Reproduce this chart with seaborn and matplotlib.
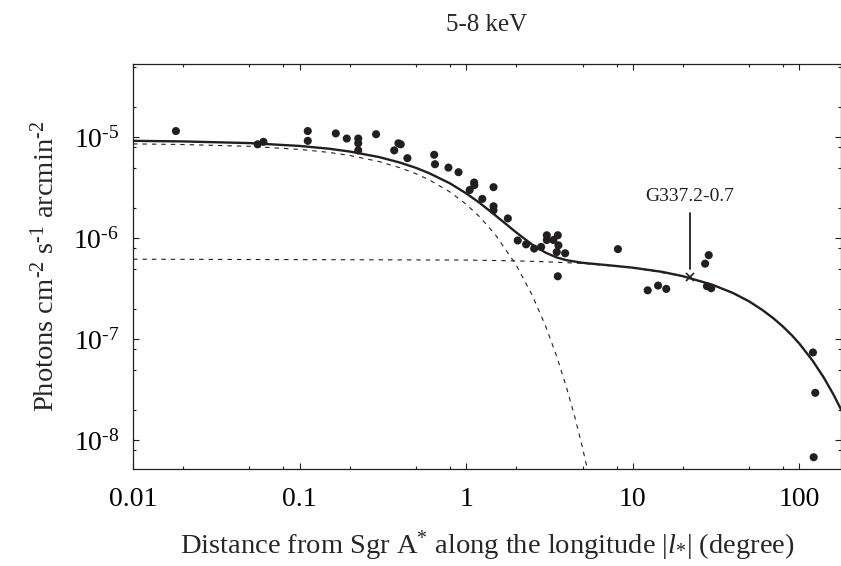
import matplotlib

matplotlib.use("Agg")
import matplotlib.pyplot as plt
import matplotlib.ticker as mticker
import numpy as np
import pandas as pd
import seaborn as sns

# measured surface brightness points (degree, photons cm-2 s-1 arcmin-2)
point_x = [0.0181, 0.056, 0.0607, 0.112, 0.112, 0.165, 0.192, 0.225, 0.225, 0.225,
           0.288, 0.37, 0.392, 0.405, 0.444, 0.643, 0.65, 0.783, 0.90, 1.05,
           1.117, 1.12, 1.25, 1.46, 1.46, 1.46, 1.78, 2.04, 2.29, 2.56,
           2.82, 3.05, 3.05, 3.34, 3.55, 3.58, 3.5, 3.93, 3.55, 8.15,
           12.3, 14.2, 15.9, 27.2, 28.6, 27.9, 29.6, 120.8, 124.7, 122.0]
point_y = [1.15e-5, 8.5e-6, 9.0e-6, 1.15e-5, 9.2e-6, 1.09e-5, 9.7e-6, 9.7e-6, 8.7e-6, 7.4e-6,
           1.07e-5, 7.4e-6, 8.7e-6, 8.5e-6, 6.2e-6, 6.7e-6, 5.4e-6, 5.0e-6, 4.5e-6, 3.0e-6,
           3.56e-6, 3.35e-6, 2.45e-6, 3.2e-6, 2.07e-6, 1.89e-6, 1.57e-6, 9.5e-7, 8.7e-7, 7.9e-7,
           8.2e-7, 1.07e-6, 9.6e-7, 9.6e-7, 1.07e-6, 8.5e-7, 7.3e-7, 7.1e-7, 4.2e-7, 7.8e-7,
           3.05e-7, 3.4e-7, 3.15e-7, 5.6e-7, 6.8e-7, 3.35e-7, 3.2e-7, 7.4e-8, 2.95e-8, 6.8e-9]

# inner component (dashed, steep)
inner_x = [0.01, 0.02, 0.05, 0.1, 0.15, 0.2, 0.3, 0.4, 0.5, 0.6, 0.8, 1.0, 1.2,
           1.5, 2.0, 2.5, 3.0, 3.5, 4.0, 4.5, 5.0, 5.5]
inner_y = [8.58e-6, 8.46e-6, 8.12e-6, 7.57e-6, 7.07e-6, 6.59e-6, 5.74e-6, 4.99e-6,
           4.35e-6, 3.78e-6, 2.87e-6, 2.17e-6, 1.64e-6, 1.08e-6, 5.41e-7, 2.70e-7,
           1.35e-7, 6.74e-8, 3.36e-8, 1.68e-8, 8.39e-9, 4.19e-9]

# outer component (dashed, flat)
outer_x = [0.01, 1.0, 2.0, 3.0, 5.0, 10, 20, 30, 40, 50, 60, 70, 80, 100, 120, 140, 160, 180]
outer_y = [6.2e-7, 6.08e-7, 5.97e-7, 5.85e-7, 5.63e-7, 5.11e-7, 4.21e-7, 3.47e-7, 2.87e-7,
           2.37e-7, 1.95e-7, 1.61e-7, 1.33e-7, 9.07e-8, 6.17e-8, 4.2e-8, 2.86e-8, 1.95e-8]

# total model (solid)
total_x = [0.01, 0.02, 0.05, 0.1, 0.15, 0.2, 0.3, 0.4, 0.5, 0.6, 0.8, 1.0, 1.2, 1.5,
           2.0, 2.5, 3.0, 3.5, 4.0, 5.0, 7.0, 10, 15, 20, 30, 40, 50, 60, 70, 80, 90,
           100, 120, 140, 160, 180]
total_y = [9.20e-6, 9.08e-6, 8.74e-6, 8.19e-6, 7.69e-6, 7.21e-6, 6.36e-6, 5.61e-6,
           4.97e-6, 4.40e-6, 3.49e-6, 2.78e-6, 2.25e-6, 1.68e-6, 1.14e-6, 8.61e-7,
           7.20e-7, 6.45e-7, 6.06e-7, 5.71e-7, 5.42e-7, 5.11e-7, 4.65e-7, 4.21e-7,
           3.47e-7, 2.87e-7, 2.37e-7, 1.95e-7, 1.61e-7, 1.33e-7, 1.10e-7, 9.07e-8,
           6.17e-8, 4.20e-8, 2.86e-8, 1.95e-8]

snr_name = "G337.2-0.7"
snr_x = 22.1
snr_y = 4.14e-7

INK = "#231f20"
HY = "\u2010"  # short hyphen for the superscripts, as in the original

sns.set_theme(style="ticks")
plt.rcParams["font.family"] = ["Liberation Serif", "DejaVu Serif"]
plt.rcParams["mathtext.fontset"] = "custom"
plt.rcParams["mathtext.rm"] = "Liberation Serif"
plt.rcParams["mathtext.it"] = "Liberation Serif:italic"
plt.rcParams["axes.unicode_minus"] = False

fig = plt.figure(figsize=(8.41, 5.66), dpi=100)
ax = fig.add_axes([133 / 841, 1 - 469 / 566, 708 / 841, 405 / 566])

inner_df = pd.DataFrame({"x": inner_x, "y": inner_y})
outer_df = pd.DataFrame({"x": outer_x, "y": outer_y})
total_df = pd.DataFrame({"x": total_x, "y": total_y})
points_df = pd.DataFrame({"x": point_x, "y": point_y})

for comp in (inner_df, outer_df):
    sns.lineplot(data=comp, x="x", y="y", ax=ax, color=INK, lw=0.8,
                 linestyle=(0, (4, 4.5)), estimator=None, sort=False)
sns.lineplot(data=total_df, x="x", y="y", ax=ax, color=INK, lw=1.7,
             estimator=None, sort=False)
sns.scatterplot(data=points_df, x="x", y="y", ax=ax, color=INK, s=34,
                edgecolor="none", zorder=4)

ax.plot([snr_x], [snr_y], marker="x", color=INK, ms=6, mew=1.2, zorder=5)
ax.plot([snr_x, snr_x], [5.0e-7, 1.78e-6], color=INK, lw=1.3)
ax.text(snr_x, 2.6e-6, snr_name, ha="center", va="center", fontsize=14, color=INK)

ax.set_xscale("log")
ax.set_yscale("log")
ax.set_xlim(0.01, 178)
ax.set_ylim(5.2e-9, 5.3e-5)


def _pow10(v, _pos):
    exp = int(round(np.log10(v)))
    sign = HY if exp < 0 else ""
    return rf"10$^{{{sign}{abs(exp)}}}$"


for axis in (ax.xaxis, ax.yaxis):
    axis.set_major_locator(mticker.LogLocator(base=10, numticks=20))
    axis.set_minor_locator(mticker.LogLocator(base=10, subs=[2, 5, 8], numticks=20))
    axis.set_minor_formatter(mticker.NullFormatter())
ax.xaxis.set_major_formatter(mticker.FuncFormatter(lambda v, _: f"{v:g}"))
ax.yaxis.set_major_formatter(mticker.FuncFormatter(_pow10))

ax.tick_params(which="both", direction="in", top=True, right=True, colors=INK,
               labelcolor="black", width=0.8)
ax.tick_params(which="major", length=4.5, labelsize=20)
ax.tick_params(axis="x", which="major", pad=13)
ax.tick_params(axis="y", which="major", pad=10)
ax.tick_params(which="minor", length=2.4)
for spine in ax.spines.values():
    spine.set_color(INK)
    spine.set_linewidth(0.9)

ax.set_xlabel(r"Distance from Sgr A$^{*}$ along the longitude $|l_{*}|$ (degree)",
              fontsize=20.5, labelpad=12)
ax.set_ylabel(rf"Photons cm$^{{{HY}2}}$ s$^{{{HY}1}}$ arcmin$^{{{HY}2}}$",
              fontsize=20.5, labelpad=10)
ax.set_title("5-8 keV", fontsize=18, pad=24)

fig.savefig("out.png", dpi=100)
plt.close(fig)
